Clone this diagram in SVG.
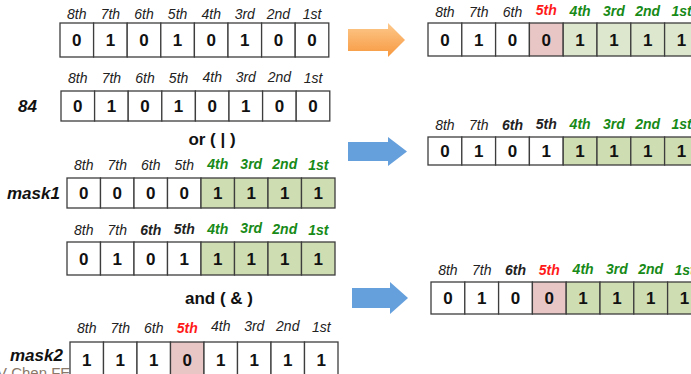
<svg xmlns="http://www.w3.org/2000/svg" width="691" height="374" viewBox="0 0 691 374">
  <defs>
    <linearGradient id="orangeFill" x1="0" y1="0" x2="0" y2="1">
      <stop offset="0" stop-color="#fdc98c"/>
      <stop offset="1" stop-color="#f7983f"/>
    </linearGradient>
    <style>
      .cell { fill: #ffffff; stroke: #3d3d3d; stroke-width: 1.3; }
      .grn { fill: #cfddb2; }
      .grnL { fill: #dce7cd; }
      .pink { fill: #e8c6c6; }
      .lbl { font-family: "Liberation Sans", Arial, sans-serif; font-style: italic; font-size: 14px; fill: #222222; text-anchor: middle; }
      .b { font-weight: bold; }
      .gt { fill: #178a17; font-weight: bold; }
      .rt { fill: #ff1a1a; font-weight: bold; }
      .dig { font-family: "Liberation Sans", Arial, sans-serif; font-weight: bold; font-size: 17px; fill: #111111; text-anchor: middle; }
      .name { font-family: "Liberation Sans", Arial, sans-serif; font-weight: bold; font-style: italic; font-size: 17px; fill: #111111; }
      .op { font-family: "Liberation Sans", Arial, sans-serif; font-weight: bold; font-size: 17px; fill: #111111; text-anchor: middle; }
      .credit { font-family: "Liberation Sans", Arial, sans-serif; font-size: 15px; fill: #8a7868; }
    </style>
  </defs>

  <!-- footer credit, partly hidden behind the mask2 register -->
  <text class="credit" x="-3" y="378">V Chen FE</text>

  <!-- value 84 before masking (top left) -->
  <g id="value-top">
    <rect class="cell" x="60" y="23" width="33.6" height="34"/>
    <rect class="cell" x="93.6" y="23" width="33.6" height="34"/>
    <rect class="cell" x="127.2" y="23" width="33.6" height="34"/>
    <rect class="cell" x="160.8" y="23" width="33.6" height="34"/>
    <rect class="cell" x="194.4" y="23" width="33.6" height="34"/>
    <rect class="cell" x="228" y="23" width="33.6" height="34"/>
    <rect class="cell" x="261.6" y="23" width="33.6" height="34"/>
    <rect class="cell" x="295.2" y="23" width="33.6" height="34"/>
    <text class="lbl" x="76.8" y="19">8th</text>
    <text class="lbl" x="110.4" y="19">7th</text>
    <text class="lbl" x="144" y="19">6th</text>
    <text class="lbl" x="177.6" y="19">5th</text>
    <text class="lbl" x="211.2" y="19">4th</text>
    <text class="lbl" x="244.8" y="19">3rd</text>
    <text class="lbl" x="278.4" y="19">2nd</text>
    <text class="lbl" x="312" y="19">1st</text>
    <text class="dig" x="76.8" y="46">0</text>
    <text class="dig" x="110.4" y="46">1</text>
    <text class="dig" x="144" y="46">0</text>
    <text class="dig" x="177.6" y="46">1</text>
    <text class="dig" x="211.2" y="46">0</text>
    <text class="dig" x="244.8" y="46">1</text>
    <text class="dig" x="278.4" y="46">0</text>
    <text class="dig" x="312" y="46">0</text>
  </g>

  <!-- final result (top right) -->
  <g id="result-top">
    <rect class="cell" x="428" y="23" width="33.8" height="33"/>
    <rect class="cell" x="461.8" y="23" width="33.8" height="33"/>
    <rect class="cell" x="495.6" y="23" width="33.8" height="33"/>
    <rect class="cell pink" x="529.4" y="23" width="33.8" height="33"/>
    <rect class="cell grnL" x="563.2" y="23" width="33.8" height="33"/>
    <rect class="cell grnL" x="597" y="23" width="33.8" height="33"/>
    <rect class="cell grnL" x="630.8" y="23" width="33.8" height="33"/>
    <rect class="cell grnL" x="664.6" y="23" width="33.8" height="33"/>
    <text class="lbl" x="444.9" y="17">8th</text>
    <text class="lbl" x="478.7" y="17">7th</text>
    <text class="lbl" x="512.5" y="17">6th</text>
    <text class="lbl rt" x="546.3" y="15">5th</text>
    <text class="lbl gt" x="580.1" y="16">4th</text>
    <text class="lbl gt" x="613.9" y="16">3rd</text>
    <text class="lbl gt" x="647.7" y="16">2nd</text>
    <text class="lbl gt" x="681.5" y="16">1st</text>
    <text class="dig" x="444.9" y="45.5">0</text>
    <text class="dig" x="478.7" y="45.5">1</text>
    <text class="dig" x="512.5" y="45.5">0</text>
    <text class="dig" x="546.3" y="45.5">0</text>
    <text class="dig" x="580.1" y="45.5">1</text>
    <text class="dig" x="613.9" y="45.5">1</text>
    <text class="dig" x="647.7" y="45.5">1</text>
    <text class="dig" x="681.5" y="45.5">1</text>
  </g>

  <!-- operand 84 -->
  <g id="operand-84">
    <text class="name" x="18" y="112">84</text>
    <rect class="cell" x="61" y="91" width="33.6" height="30"/>
    <rect class="cell" x="94.6" y="91" width="33.6" height="30"/>
    <rect class="cell" x="128.2" y="91" width="33.6" height="30"/>
    <rect class="cell" x="161.8" y="91" width="33.6" height="30"/>
    <rect class="cell" x="195.4" y="91" width="33.6" height="30"/>
    <rect class="cell" x="229" y="91" width="33.6" height="30"/>
    <rect class="cell" x="262.6" y="91" width="33.6" height="30"/>
    <rect class="cell" x="296.2" y="91" width="33.6" height="30"/>
    <text class="lbl" x="77.8" y="83">8th</text>
    <text class="lbl" x="111.4" y="83">7th</text>
    <text class="lbl" x="145" y="83">6th</text>
    <text class="lbl" x="178.6" y="83">5th</text>
    <text class="lbl" x="212.2" y="82">4th</text>
    <text class="lbl" x="245.8" y="82">3rd</text>
    <text class="lbl" x="279.4" y="82">2nd</text>
    <text class="lbl" x="313" y="83">1st</text>
    <text class="dig" x="77.8" y="112">0</text>
    <text class="dig" x="111.4" y="112">1</text>
    <text class="dig" x="145" y="112">0</text>
    <text class="dig" x="178.6" y="112">1</text>
    <text class="dig" x="212.2" y="112">0</text>
    <text class="dig" x="245.8" y="112">1</text>
    <text class="dig" x="279.4" y="112">0</text>
    <text class="dig" x="313" y="112">0</text>
  </g>

  <text id="op-or" class="op" x="212" y="145">or ( | )</text>

  <!-- result of OR (middle right) -->
  <g id="result-or-right">
    <rect class="cell" x="428" y="137" width="33.8" height="28"/>
    <rect class="cell" x="461.8" y="137" width="33.8" height="28"/>
    <rect class="cell" x="495.6" y="137" width="33.8" height="28"/>
    <rect class="cell" x="529.4" y="137" width="33.8" height="28"/>
    <rect class="cell grn" x="563.2" y="137" width="33.8" height="28"/>
    <rect class="cell grn" x="597" y="137" width="33.8" height="28"/>
    <rect class="cell grn" x="630.8" y="137" width="33.8" height="28"/>
    <rect class="cell grn" x="664.6" y="137" width="33.8" height="28"/>
    <text class="lbl" x="444.9" y="130">8th</text>
    <text class="lbl" x="478.7" y="130">7th</text>
    <text class="lbl b" x="512.5" y="130">6th</text>
    <text class="lbl b" x="546.3" y="129">5th</text>
    <text class="lbl gt" x="580.1" y="129">4th</text>
    <text class="lbl gt" x="613.9" y="129">3rd</text>
    <text class="lbl gt" x="647.7" y="129">2nd</text>
    <text class="lbl gt" x="681.5" y="129">1st</text>
    <text class="dig" x="444.9" y="157">0</text>
    <text class="dig" x="478.7" y="157">1</text>
    <text class="dig" x="512.5" y="157">0</text>
    <text class="dig" x="546.3" y="157">1</text>
    <text class="dig" x="580.1" y="157">1</text>
    <text class="dig" x="613.9" y="157">1</text>
    <text class="dig" x="647.7" y="157">1</text>
    <text class="dig" x="681.5" y="157">1</text>
  </g>

  <!-- mask1 -->
  <g id="mask1">
    <text class="name" x="7" y="199">mask1</text>
    <rect class="cell" x="67" y="178" width="33.5" height="30"/>
    <rect class="cell" x="100.5" y="178" width="33.5" height="30"/>
    <rect class="cell" x="134" y="178" width="33.5" height="30"/>
    <rect class="cell" x="167.5" y="178" width="33.5" height="30"/>
    <rect class="cell grn" x="201" y="178" width="33.5" height="30"/>
    <rect class="cell grn" x="234.5" y="178" width="33.5" height="30"/>
    <rect class="cell grn" x="268" y="178" width="33.5" height="30"/>
    <rect class="cell grn" x="301.5" y="178" width="33.5" height="30"/>
    <text class="lbl" x="83.75" y="170">8th</text>
    <text class="lbl" x="117.25" y="170">7th</text>
    <text class="lbl" x="150.75" y="170">6th</text>
    <text class="lbl" x="184.25" y="170">5th</text>
    <text class="lbl gt" x="217.75" y="169">4th</text>
    <text class="lbl gt" x="251.25" y="169">3rd</text>
    <text class="lbl gt" x="284.75" y="169">2nd</text>
    <text class="lbl gt" x="318.25" y="170">1st</text>
    <text class="dig" x="83.75" y="199">0</text>
    <text class="dig" x="117.25" y="199">0</text>
    <text class="dig" x="150.75" y="199">0</text>
    <text class="dig" x="184.25" y="199">0</text>
    <text class="dig" x="217.75" y="199">1</text>
    <text class="dig" x="251.25" y="199">1</text>
    <text class="dig" x="284.75" y="199">1</text>
    <text class="dig" x="318.25" y="199">1</text>
  </g>

  <!-- result of OR, first operand of AND -->
  <g id="result-or-left">
    <rect class="cell" x="67" y="242" width="33.5" height="33"/>
    <rect class="cell" x="100.5" y="242" width="33.5" height="33"/>
    <rect class="cell" x="134" y="242" width="33.5" height="33"/>
    <rect class="cell" x="167.5" y="242" width="33.5" height="33"/>
    <rect class="cell grn" x="201" y="242" width="33.5" height="33"/>
    <rect class="cell grn" x="234.5" y="242" width="33.5" height="33"/>
    <rect class="cell grn" x="268" y="242" width="33.5" height="33"/>
    <rect class="cell grn" x="301.5" y="242" width="33.5" height="33"/>
    <text class="lbl" x="83.75" y="235">8th</text>
    <text class="lbl" x="117.25" y="235">7th</text>
    <text class="lbl b" x="150.75" y="235">6th</text>
    <text class="lbl b" x="184.25" y="234">5th</text>
    <text class="lbl gt" x="217.75" y="234">4th</text>
    <text class="lbl gt" x="251.25" y="233">3rd</text>
    <text class="lbl gt" x="284.75" y="234">2nd</text>
    <text class="lbl gt" x="318.25" y="235">1st</text>
    <text class="dig" x="83.75" y="264.5">0</text>
    <text class="dig" x="117.25" y="264.5">1</text>
    <text class="dig" x="150.75" y="264.5">0</text>
    <text class="dig" x="184.25" y="264.5">1</text>
    <text class="dig" x="217.75" y="264.5">1</text>
    <text class="dig" x="251.25" y="264.5">1</text>
    <text class="dig" x="284.75" y="264.5">1</text>
    <text class="dig" x="318.25" y="264.5">1</text>
  </g>

  <text id="op-and" class="op" x="219" y="304">and ( &amp; )</text>

  <!-- result of AND (bottom right) -->
  <g id="result-and-right">
    <rect class="cell" x="431" y="282" width="33.8" height="32"/>
    <rect class="cell" x="464.8" y="282" width="33.8" height="32"/>
    <rect class="cell" x="498.6" y="282" width="33.8" height="32"/>
    <rect class="cell pink" x="532.4" y="282" width="33.8" height="32"/>
    <rect class="cell grn" x="566.2" y="282" width="33.8" height="32"/>
    <rect class="cell grn" x="600" y="282" width="33.8" height="32"/>
    <rect class="cell grn" x="633.8" y="282" width="33.8" height="32"/>
    <rect class="cell grn" x="667.6" y="282" width="33.8" height="32"/>
    <text class="lbl" x="447.9" y="275">8th</text>
    <text class="lbl" x="481.7" y="275">7th</text>
    <text class="lbl b" x="515.5" y="275">6th</text>
    <text class="lbl rt" x="549.3" y="275">5th</text>
    <text class="lbl gt" x="583.1" y="274">4th</text>
    <text class="lbl gt" x="616.9" y="274">3rd</text>
    <text class="lbl gt" x="650.7" y="274">2nd</text>
    <text class="lbl gt" x="684.5" y="275">1st</text>
    <text class="dig" x="447.9" y="304">0</text>
    <text class="dig" x="481.7" y="304">1</text>
    <text class="dig" x="515.5" y="304">0</text>
    <text class="dig" x="549.3" y="304">0</text>
    <text class="dig" x="583.1" y="304">1</text>
    <text class="dig" x="616.9" y="304">1</text>
    <text class="dig" x="650.7" y="304">1</text>
    <text class="dig" x="684.5" y="304">1</text>
  </g>

  <!-- mask2 -->
  <g id="mask2">
    <text class="name" x="10" y="361">mask2</text>
    <rect class="cell" x="70" y="342" width="33.5" height="36"/>
    <rect class="cell" x="103.5" y="342" width="33.5" height="36"/>
    <rect class="cell" x="137" y="342" width="33.5" height="36"/>
    <rect class="cell pink" x="170.5" y="342" width="33.5" height="36"/>
    <rect class="cell" x="204" y="342" width="33.5" height="36"/>
    <rect class="cell" x="237.5" y="342" width="33.5" height="36"/>
    <rect class="cell" x="271" y="342" width="33.5" height="36"/>
    <rect class="cell" x="304.5" y="342" width="33.5" height="36"/>
    <text class="lbl" x="86.75" y="333">8th</text>
    <text class="lbl" x="120.25" y="333">7th</text>
    <text class="lbl" x="153.75" y="333">6th</text>
    <text class="lbl rt" x="187.25" y="333">5th</text>
    <text class="lbl" x="220.75" y="331">4th</text>
    <text class="lbl" x="254.25" y="331">3rd</text>
    <text class="lbl" x="287.75" y="331">2nd</text>
    <text class="lbl" x="321.25" y="332">1st</text>
    <text class="dig" x="86.75" y="366">1</text>
    <text class="dig" x="120.25" y="366">1</text>
    <text class="dig" x="153.75" y="366">1</text>
    <text class="dig" x="187.25" y="366">0</text>
    <text class="dig" x="220.75" y="366">1</text>
    <text class="dig" x="254.25" y="366">1</text>
    <text class="dig" x="287.75" y="366">1</text>
    <text class="dig" x="321.25" y="366">1</text>
  </g>

  <!-- block arrows -->
  <g id="connectors">
    <path d="M348,29 H388 V23 L405,40 L388,57 V51 H348 Z" fill="url(#orangeFill)"/>
    <path d="M348,142 H388 V137 L407,151.5 L388,166 V161 H348 Z" fill="#65a0dd"/>
    <path d="M352,288 H390 V282 L408,298 L390,314 V308 H352 Z" fill="#65a0dd"/>
  </g>
</svg>
